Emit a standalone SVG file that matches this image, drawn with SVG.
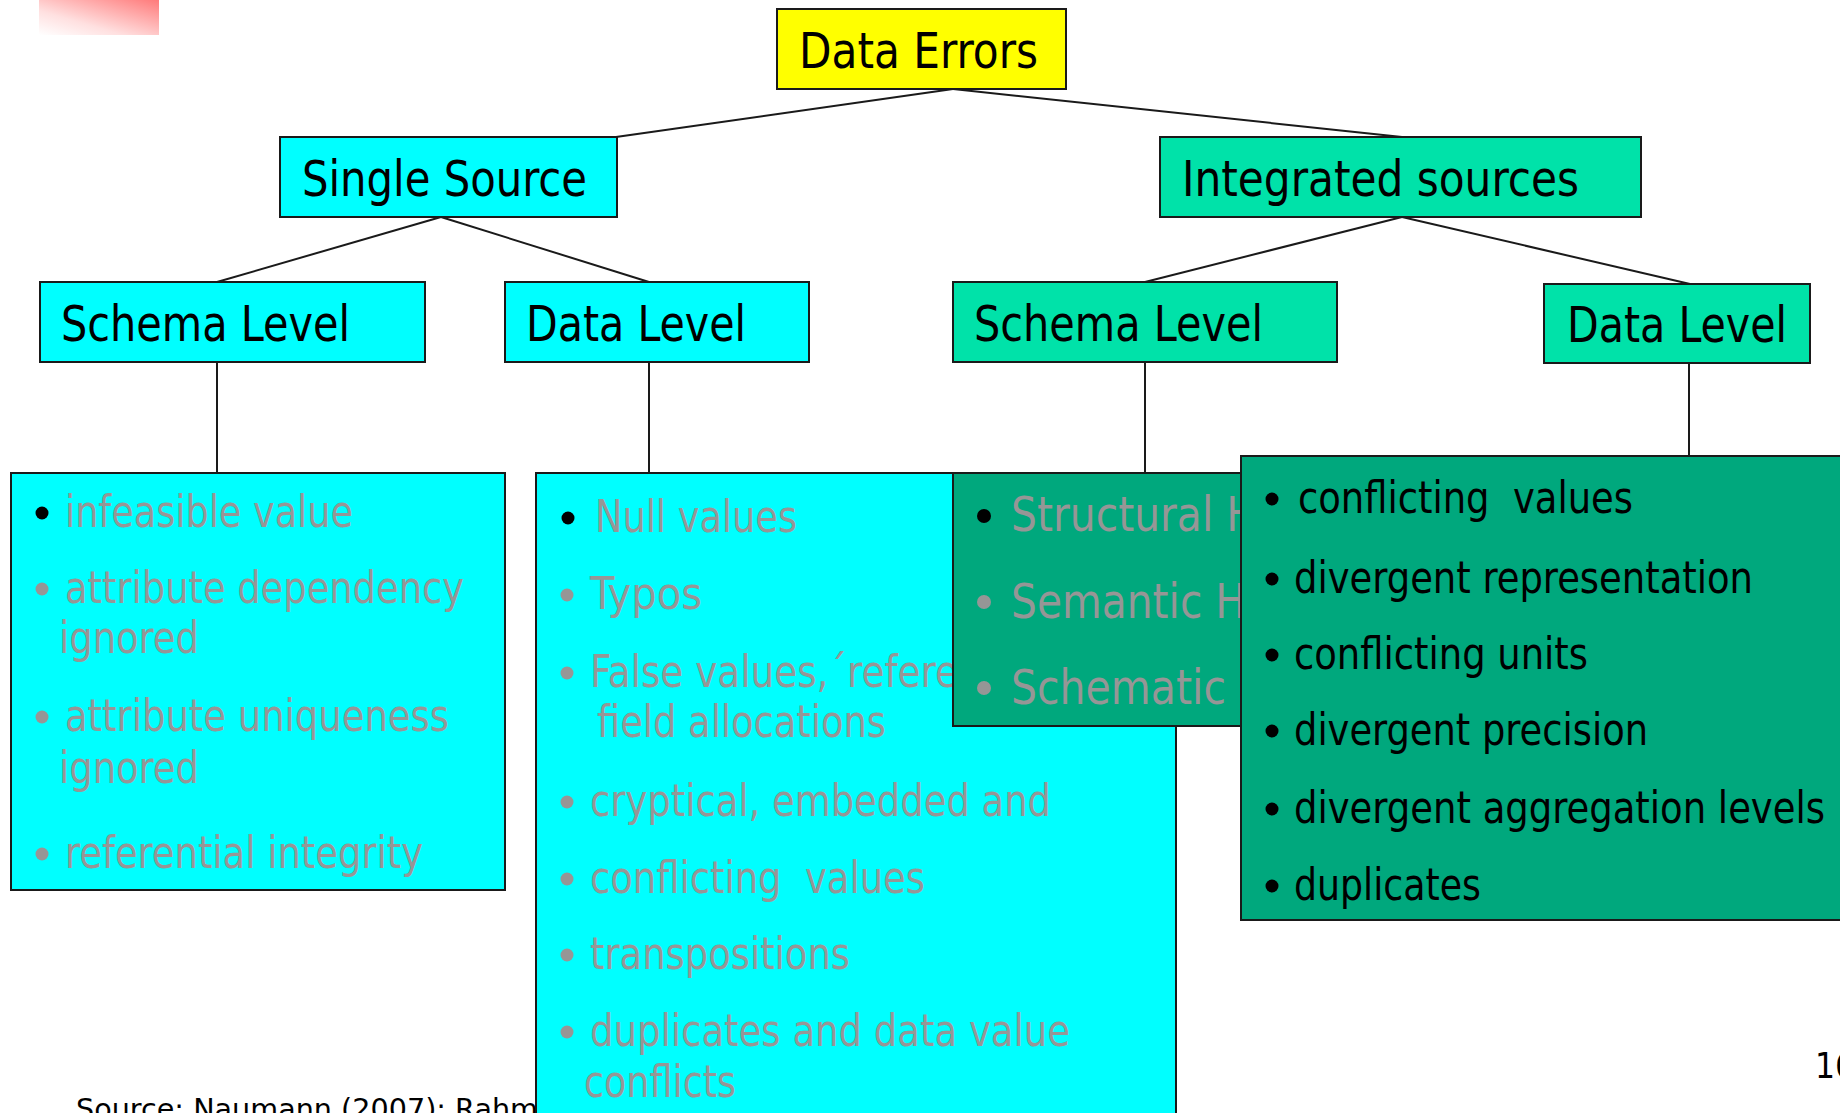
<svg xmlns="http://www.w3.org/2000/svg" width="1840" height="1113" viewBox="0 0 1840 1113">
  <defs>
    <linearGradient id="pinkFade" x1="0" y1="1" x2="1" y2="0">
      <stop offset="0" stop-color="#ffffff"/>
      <stop offset="0.35" stop-color="#ffe0e0"/>
      <stop offset="1" stop-color="#ff7a7a"/>
    </linearGradient>
    <style>
      .box { stroke: #1a1a1a; stroke-width: 2; }
      .cyan { fill: #00ffff; }
      .yellow { fill: #ffff00; }
      .lgreen { fill: #00e2a9; }
      .dgreen { fill: #00a87d; }
      .head { font-family: "DejaVu Sans Condensed", "DejaVu Sans", sans-serif; font-stretch: condensed; font-size: 49px; fill: #000000; }
      .item { font-family: "DejaVu Sans Condensed", "DejaVu Sans", sans-serif; font-stretch: condensed; font-size: 45px; }
      .big { font-size: 48px; }
      .gray { fill: #969696; }
      .black { fill: #000000; }
      .dot { fill: #969696; }
      .dot.on { fill: #000000; }
      .link { stroke: #1a1a1a; stroke-width: 2; fill: none; }
      .foot { font-family: "DejaVu Sans", Verdana, sans-serif; font-size: 28px; fill: #000000; }
      .page { font-family: "DejaVu Sans Condensed", "DejaVu Sans", sans-serif; font-stretch: condensed; font-size: 35px; fill: #000000; }
    </style>
  </defs>

  <rect width="1840" height="1113" fill="#ffffff"/>

  <!-- corner accent -->
  <rect x="39" y="0" width="120" height="35" fill="url(#pinkFade)"/>

  <!-- footer reference line, partly under the list box -->
  <text class="foot" x="76" y="1119" textLength="462" lengthAdjust="spacingAndGlyphs">Source: Naumann (2007): Rahm</text>
  <text class="page" x="1815" y="1078">16</text>

  <!-- connectors -->
  <g id="connectors">
    <line class="link" x1="953" y1="89" x2="616" y2="137"/>
    <line class="link" x1="953" y1="89" x2="1402" y2="137"/>
    <line class="link" x1="441" y1="217" x2="217" y2="282"/>
    <line class="link" x1="441" y1="217" x2="649" y2="282"/>
    <line class="link" x1="1402" y1="217" x2="1145" y2="282"/>
    <line class="link" x1="1402" y1="217" x2="1690" y2="284"/>
    <line class="link" x1="217" y1="362" x2="217" y2="473"/>
    <line class="link" x1="649" y1="362" x2="649" y2="473"/>
    <line class="link" x1="1145" y1="362" x2="1145" y2="473"/>
    <line class="link" x1="1689" y1="363" x2="1689" y2="456"/>
  </g>

  <!-- tree headings -->
  <g id="data-errors">
    <rect class="box yellow" x="777" y="9" width="289" height="80"/>
    <text class="head" x="799" y="68" textLength="239" lengthAdjust="spacingAndGlyphs">Data Errors</text>
  </g>
  <g id="single-source">
    <rect class="box cyan" x="280" y="137" width="337" height="80"/>
    <text class="head" x="302" y="196" textLength="285" lengthAdjust="spacingAndGlyphs">Single Source</text>
  </g>
  <g id="integrated-sources">
    <rect class="box lgreen" x="1160" y="137" width="481" height="80"/>
    <text class="head" x="1182" y="196" textLength="397" lengthAdjust="spacingAndGlyphs">Integrated sources</text>
  </g>
  <g id="single-schema-level">
    <rect class="box cyan" x="40" y="282" width="385" height="80"/>
    <text class="head" x="61" y="341" textLength="289" lengthAdjust="spacingAndGlyphs">Schema Level</text>
  </g>
  <g id="single-data-level">
    <rect class="box cyan" x="505" y="282" width="304" height="80"/>
    <text class="head" x="526" y="341" textLength="220" lengthAdjust="spacingAndGlyphs">Data Level</text>
  </g>
  <g id="integrated-schema-level">
    <rect class="box lgreen" x="953" y="282" width="384" height="80"/>
    <text class="head" x="974" y="341" textLength="289" lengthAdjust="spacingAndGlyphs">Schema Level</text>
  </g>
  <g id="integrated-data-level">
    <rect class="box lgreen" x="1544" y="284" width="266" height="79"/>
    <text class="head" x="1567" y="342" textLength="220" lengthAdjust="spacingAndGlyphs">Data Level</text>
  </g>

  <!-- single source, schema level errors -->
  <g id="single-schema-list">
    <rect class="box cyan" x="11" y="473" width="494" height="417"/>
    <circle class="dot on" cx="42" cy="513" r="6.5"/>
    <circle class="dot" cx="42" cy="589" r="6.5"/>
    <circle class="dot" cx="42" cy="717" r="6.5"/>
    <circle class="dot" cx="42" cy="854" r="6.5"/>
    <text class="item gray" x="65" y="527" textLength="288" lengthAdjust="spacingAndGlyphs">infeasible value</text>
    <text class="item gray" x="65" y="603" textLength="399" lengthAdjust="spacingAndGlyphs">attribute dependency</text>
    <text class="item gray" x="59" y="653" textLength="140" lengthAdjust="spacingAndGlyphs">ignored</text>
    <text class="item gray" x="65" y="731" textLength="384" lengthAdjust="spacingAndGlyphs">attribute uniqueness</text>
    <text class="item gray" x="59" y="783" textLength="140" lengthAdjust="spacingAndGlyphs">ignored</text>
    <text class="item gray" x="65" y="868" textLength="358" lengthAdjust="spacingAndGlyphs">referential integrity</text>
  </g>

  <!-- single source, data level errors -->
  <g id="single-data-list">
    <rect class="box cyan" x="536" y="473" width="640" height="660"/>
    <circle class="dot on" cx="568" cy="518" r="6.5"/>
    <circle class="dot" cx="567" cy="595" r="6.5"/>
    <circle class="dot" cx="567" cy="673" r="6.5"/>
    <circle class="dot" cx="567" cy="802" r="6.5"/>
    <circle class="dot" cx="567" cy="879" r="6.5"/>
    <circle class="dot" cx="567" cy="955" r="6.5"/>
    <circle class="dot" cx="567" cy="1032" r="6.5"/>
    <text class="item gray" x="595" y="532" textLength="202" lengthAdjust="spacingAndGlyphs">Null values</text>
    <text class="item gray" x="590" y="609" textLength="112" lengthAdjust="spacingAndGlyphs">Typos</text>
    <text class="item gray" x="590" y="687" textLength="368" lengthAdjust="spacingAndGlyphs">False values,´refere</text>
    <text class="item gray" x="597" y="737" textLength="289" lengthAdjust="spacingAndGlyphs">field allocations</text>
    <text class="item gray" x="590" y="816" textLength="461" lengthAdjust="spacingAndGlyphs">cryptical, embedded and</text>
    <text class="item gray" x="590" y="893" textLength="335" lengthAdjust="spacingAndGlyphs" xml:space="preserve">conflicting  values</text>
    <text class="item gray" x="590" y="969" textLength="260" lengthAdjust="spacingAndGlyphs">transpositions</text>
    <text class="item gray" x="590" y="1046" textLength="480" lengthAdjust="spacingAndGlyphs">duplicates and data value</text>
    <text class="item gray" x="584" y="1097" textLength="152" lengthAdjust="spacingAndGlyphs">conflicts</text>
  </g>

  <!-- integrated sources, schema level errors -->
  <g id="integrated-schema-list">
    <rect class="box dgreen" x="953" y="473" width="360" height="253"/>
    <circle class="dot on" cx="984" cy="516" r="7"/>
    <circle class="dot" cx="984" cy="602" r="7"/>
    <circle class="dot" cx="984" cy="688" r="7"/>
    <text class="item big gray" x="1011" y="531" textLength="246" lengthAdjust="spacingAndGlyphs">Structural H</text>
    <text class="item big gray" x="1011" y="618" textLength="235" lengthAdjust="spacingAndGlyphs">Semantic H</text>
    <text class="item big gray" x="1011" y="704" textLength="215" lengthAdjust="spacingAndGlyphs">Schematic</text>
  </g>

  <!-- integrated sources, data level errors -->
  <g id="integrated-data-list">
    <rect class="box dgreen" x="1241" y="456" width="640" height="464"/>
    <circle class="dot on" cx="1272" cy="499" r="6.5"/>
    <circle class="dot on" cx="1272" cy="579" r="6.5"/>
    <circle class="dot on" cx="1272" cy="655" r="6.5"/>
    <circle class="dot on" cx="1272" cy="731" r="6.5"/>
    <circle class="dot on" cx="1272" cy="809" r="6.5"/>
    <circle class="dot on" cx="1272" cy="886" r="6.5"/>
    <text class="item black" x="1298" y="513" textLength="335" lengthAdjust="spacingAndGlyphs" xml:space="preserve">conflicting  values</text>
    <text class="item black" x="1294" y="593" textLength="459" lengthAdjust="spacingAndGlyphs">divergent representation</text>
    <text class="item black" x="1294" y="669" textLength="294" lengthAdjust="spacingAndGlyphs">conflicting units</text>
    <text class="item black" x="1294" y="745" textLength="354" lengthAdjust="spacingAndGlyphs">divergent precision</text>
    <text class="item black" x="1294" y="823" textLength="531" lengthAdjust="spacingAndGlyphs">divergent aggregation levels</text>
    <text class="item black" x="1294" y="900" textLength="187" lengthAdjust="spacingAndGlyphs">duplicates</text>
  </g>
</svg>
